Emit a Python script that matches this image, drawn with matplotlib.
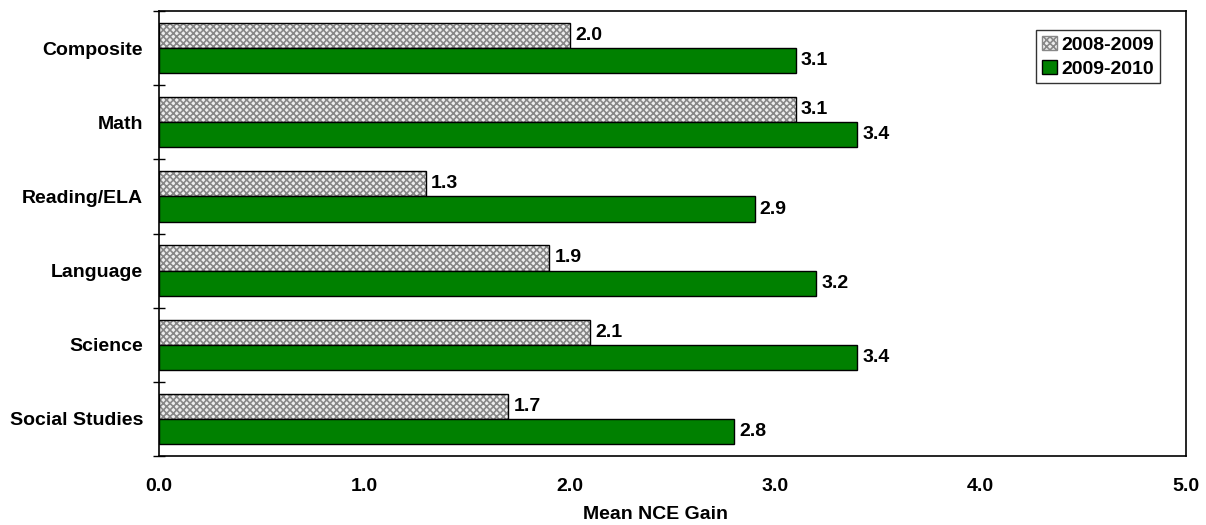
import matplotlib.pyplot as plt
import numpy as np
from matplotlib.patches import Patch

# ---------------- DATA ---------------- #
subjects = ["Composite", "Math", "Reading/ELA", "Language", "Science", "Social Studies"]
gain_0809 = [2.0, 3.1, 1.3, 1.9, 2.1, 1.7]
gain_1011 = [3.1, 3.4, 2.9, 3.2, 3.4, 2.8]
years = ["2008-2009", "2009-2010"]
xticks = [0, 1, 2, 3, 4, 5]

plt.rcParams["font.family"] = ["Liberation Sans", "DejaVu Sans"]
plt.rcParams["font.weight"] = "bold"
plt.rcParams["hatch.linewidth"] = 1.2

fig = plt.figure(figsize=(12.06, 5.25), dpi=100)
ax = fig.add_axes([0.1318, 0.1314, 0.8516, 0.8476])

y = np.arange(len(subjects))
h = 0.34
green = "#008000"

# hatched bars: pattern first, then black outline
ax.barh(y - h / 2, gain_0809, height=h, color="#eeeeee", edgecolor="#888888",
        hatch="xxxxx", linewidth=0)
ax.barh(y - h / 2, gain_0809, height=h, fill=False, edgecolor="black", linewidth=1)
ax.barh(y + h / 2, gain_1011, height=h, color=green, edgecolor="black", linewidth=1)

for yi, v in zip(y, gain_0809):
    ax.text(v + 0.025, yi - h / 2, f"{v:.1f}", va="center", ha="left",
            fontsize=14, fontweight="bold")
for yi, v in zip(y, gain_1011):
    ax.text(v + 0.025, yi + h / 2, f"{v:.1f}", va="center", ha="left",
            fontsize=14, fontweight="bold")

ax.set_xlim(0, 5)
ax.set_ylim(len(subjects) - 0.5, -0.5)

ax.set_xticks(xticks)
ax.set_xticklabels([f"{t:.1f}" for t in xticks], fontsize=14, fontweight="bold")
ax.tick_params(axis="x", length=0, pad=16)

ax.set_yticks(y)
ax.set_yticklabels(subjects, fontsize=14, fontweight="bold")
ax.tick_params(axis="y", which="major", length=0, pad=11.5)
ax.set_yticks(np.arange(len(subjects) + 1) - 0.5, minor=True)
ax.tick_params(axis="y", which="minor", direction="inout", length=9, width=1)

for s in ax.spines.values():
    s.set_linewidth(1.2)
    s.set_color("black")

ax.set_xlabel("Mean NCE Gain", fontsize=14, fontweight="bold")
ax.xaxis.set_label_coords(0.483, -0.113)

handles = [
    Patch(facecolor="#eeeeee", edgecolor="#888888", hatch="xxxxx", label=years[0]),
    Patch(facecolor=green, edgecolor="black", label=years[1]),
]
leg = ax.legend(handles=handles, loc="upper right", bbox_to_anchor=(0.9747, 0.957),
                fontsize=14, frameon=True, fancybox=False, handlelength=0.75,
                handleheight=0.75, handletextpad=0.25, borderpad=0.3,
                labelspacing=0.3, borderaxespad=0)
leg.get_frame().set_edgecolor("black")
leg.get_frame().set_linewidth(1)
for t in leg.get_texts():
    t.set_fontweight("bold")

fig.savefig("out.png", dpi=100)
